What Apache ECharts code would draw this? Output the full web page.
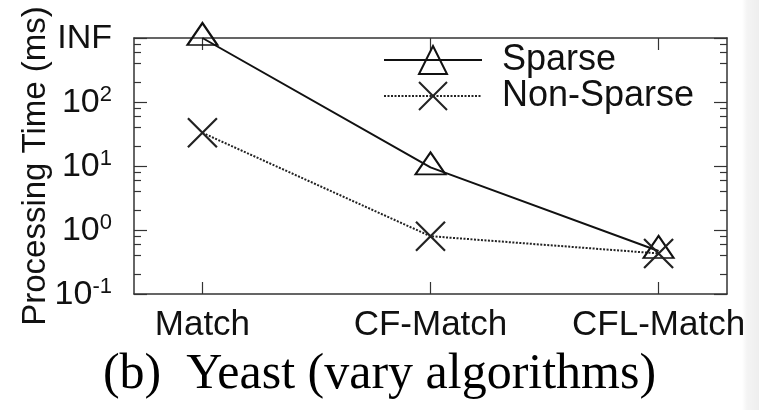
<!DOCTYPE html>
<html>
<head>
<meta charset="utf-8">
<script src="https://cdn.jsdelivr.net/npm/echarts@6/dist/echarts.min.js"></script>
<style>
  html, body { margin: 0; padding: 0; background: #fff; }
  #chart { width: 759px; height: 410px; }
</style>
</head>
<body>
<div id="chart"></div>
<script>
// Processing time per algorithm on the Yeast dataset (log scale, INF = did not finish)
const categories = ['Match', 'CF-Match', 'CFL-Match'];
const sparseTimes = [1000, 9.5, 0.47];
const nonSparseTimes = [33, 0.8, 0.43];
const yMajorValues = [0.1, 1, 10, 100, 1000];
const yTickLabels = ['10^-1', '10^0', '10^1', '10^2', 'INF'];
const yMinorValues = [0.2, 0.4, 0.6, 0.8, 2, 4, 6, 8, 20, 40, 60, 80, 200, 400, 600, 800];
const categoryIndex = [0, 1, 2];
const caption = '(b)  Yeast (vary algorithms)';

const INK = '#111';
const AXIS = '#333';
const sans = '"Liberation Sans", Arial, Helvetica, sans-serif';

const triPath = 'path://M0,-2 L1.73,1 L-1.73,1 Z';
const crossPath = 'path://M-1,-1 L1,1 M1,-1 L-1,1';

function yLabel(v) {
  const i = yMajorValues.findIndex(m => Math.abs(Math.log10(m) - Math.log10(v)) < 1e-6);
  if (i < 0) return '';
  const t = yTickLabels[i];
  if (t.indexOf('^') < 0) return '{b|' + t + '}';
  const parts = t.split('^');
  return '{b|' + parts[0] + '}{s|' + parts[1] + '}';
}

const chart = echarts.init(document.getElementById('chart'), null, { renderer: 'canvas' });

const xBase = {
  type: 'value', min: -0.3, max: 2.3,
  splitLine: { show: false },
  axisLine: { show: true, onZero: false, lineStyle: { color: AXIS, width: 1.5 } },
  axisTick: { show: true, inside: true, length: 12, customValues: categoryIndex, lineStyle: { color: AXIS, width: 1.2 } }
};
const yBase = {
  type: 'log', logBase: 10, min: 0.1, max: 1000,
  splitLine: { show: false }
};

chart.setOption({
  animation: false,
  backgroundColor: '#fff',
  grid: { left: 134, top: 38, width: 593, height: 256, containLabel: false },
  xAxis: [
    Object.assign({}, xBase, {
      position: 'bottom',
      axisLabel: {
        customValues: categoryIndex, margin: 14,
        color: INK, fontFamily: sans, fontSize: 35,
        formatter: v => categories[Math.round(v)]
      }
    }),
    Object.assign({}, xBase, { position: 'top', axisLabel: { show: false } })
  ],
  yAxis: [
    Object.assign({}, yBase, {
      position: 'left',
      name: 'Processing Time (ms)', nameLocation: 'middle', nameGap: 82, nameMoveOverlap: false,
      nameTextStyle: { color: INK, fontFamily: sans, fontSize: 33 },
      axisLine: { show: true, onZero: false, lineStyle: { color: AXIS, width: 1.5 } },
      axisTick: { show: true, inside: true, length: 13, customValues: yMajorValues, lineStyle: { color: AXIS, width: 1.2 } },
      axisLabel: {
        customValues: yMajorValues, margin: 22, formatter: yLabel,
        rich: {
          b: { color: INK, fontFamily: sans, fontSize: 34, lineHeight: 36, verticalAlign: 'bottom' },
          s: { color: INK, fontFamily: sans, fontSize: 22, lineHeight: 36, verticalAlign: 'top' }
        }
      }
    }),
    Object.assign({}, yBase, {
      position: 'right',
      axisLine: { show: true, onZero: false, lineStyle: { color: AXIS, width: 1.5 } },
      axisTick: { show: true, inside: true, length: 13, customValues: yMajorValues, lineStyle: { color: AXIS, width: 1.2 } },
      axisLabel: { show: false }
    }),
    Object.assign({}, yBase, {
      position: 'left',
      axisLine: { show: false, onZero: false },
      axisTick: { show: true, inside: true, length: 7, customValues: yMinorValues, lineStyle: { color: AXIS, width: 1.2 } },
      axisLabel: { show: false }
    }),
    Object.assign({}, yBase, {
      position: 'right',
      axisLine: { show: false, onZero: false },
      axisTick: { show: true, inside: true, length: 7, customValues: yMinorValues, lineStyle: { color: AXIS, width: 1.2 } },
      axisLabel: { show: false }
    })
  ],
  legend: {
    left: 378, top: 37, orient: 'vertical',
    itemWidth: 98, itemHeight: 35, itemGap: 0,
    textStyle: { color: INK, fontFamily: sans, fontSize: 36, lineHeight: 35, padding: [0, 0, 0, 15] },
    data: ['Sparse', 'Non-Sparse']
  },
  series: [
    {
      name: 'Sparse', type: 'line',
      data: categoryIndex.map(i => [i, sparseTimes[i]]),
      symbol: triPath, symbolSize: [30, 22], symbolOffset: [0, -4],
      color: INK,
      lineStyle: { color: INK, width: 2, type: 'solid' },
      itemStyle: { color: 'rgba(0,0,0,0)', borderColor: INK, borderWidth: 2 }
    },
    {
      name: 'Non-Sparse', type: 'line',
      data: categoryIndex.map(i => [i, nonSparseTimes[i]]),
      symbol: crossPath, symbolSize: 29,
      color: INK,
      lineStyle: { color: '#222', width: 2, type: [2, 1.5] },
      itemStyle: { color: 'rgba(0,0,0,0)', borderColor: '#222', borderWidth: 2.2 }
    }
  ],
  graphic: [
    {
      type: 'text', left: 'center', top: 350,
      style: { text: caption, fill: '#000', font: '50px "Liberation Serif", "Times New Roman", serif' }
    },
    {
      type: 'rect', right: 0, top: 0, shape: { width: 17, height: 410 }, silent: true, z: -1,
      style: { fill: new echarts.graphic.LinearGradient(0, 0, 1, 0, [{ offset: 0, color: '#ffffff' }, { offset: 0.3, color: '#f4f4f4' }, { offset: 1, color: '#eeeeee' }]) }
    }
  ]
});
</script>
</body>
</html>
